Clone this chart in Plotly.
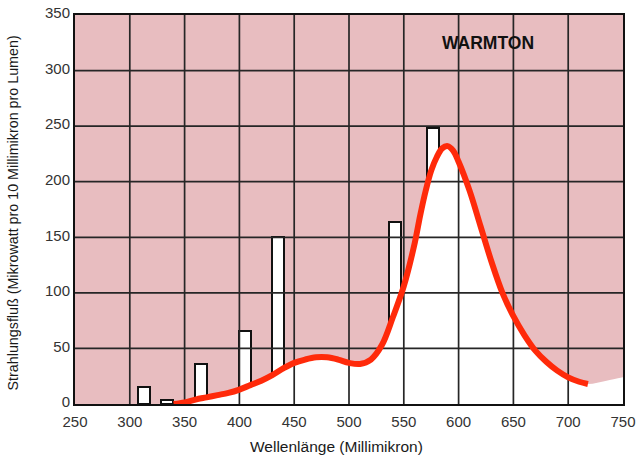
import plotly.graph_objects as go

# Data
line_wavelengths = [313, 334, 365, 405, 435, 542, 577]
line_values = [15, 4, 36, 66, 150, 164, 248]

curve_x = [340, 350, 360, 370, 380, 390, 400, 410, 420, 430, 440, 450, 460, 470, 480,
           490, 500, 510, 520, 530, 540, 550, 560, 565, 570, 575, 580, 585, 590, 595,
           600, 610, 620, 630, 640, 650, 660, 670, 680, 690, 700, 710, 718]
curve_y = [0, 1.5, 4, 6, 8, 10, 13, 17, 21, 26, 32, 37, 40, 42, 42,
           40, 37, 36, 40, 53, 78, 106, 145, 170, 192, 210, 222, 230, 232, 228,
           218, 192, 160, 128, 100, 79, 62, 48, 38, 30, 24, 20, 18]

# white paper showing through at the right bottom edge
white_tail_x = [735, 750]
white_tail_y = [21, 24]

x_ticks = [250, 300, 350, 400, 450, 500, 550, 600, 650, 700, 750]
y_ticks = [0, 50, 100, 150, 200, 250, 300, 350]

PINK = "rgb(232,189,192)"
RED = "#ff2a0a"
GRID = "#262626"

fig = go.Figure()

fig.add_trace(go.Bar(
    x=line_wavelengths, y=line_values, width=11,
    marker=dict(color="white", line=dict(color="#111", width=2)),
    hoverinfo="skip", showlegend=False))

fig.add_trace(go.Scatter(
    x=curve_x + white_tail_x, y=curve_y + white_tail_y,
    mode="lines", line=dict(width=0, shape="spline"),
    fill="tozeroy", fillcolor="white", hoverinfo="skip", showlegend=False))

# grid lines drawn above the white fill
gx, gy = [], []
for v in x_ticks[1:-1]:
    gx += [v, v, None]
    gy += [y_ticks[0], y_ticks[-1], None]
for v in y_ticks[1:-1]:
    gx += [x_ticks[0], x_ticks[-1], None]
    gy += [v, v, None]
fig.add_trace(go.Scatter(x=gx, y=gy, mode="lines",
                         line=dict(color=GRID, width=1.7),
                         hoverinfo="skip", showlegend=False))

fig.add_trace(go.Scatter(
    x=curve_x, y=curve_y, mode="lines",
    line=dict(color=RED, width=6, shape="spline"),
    hoverinfo="skip", showlegend=False))

fig.add_annotation(x=627, y=325, text="<b>WARMTON</b>", showarrow=False,
                   font=dict(family="Liberation Sans, Arial", size=17.5, color="#111"))

fig.add_annotation(xref="paper", yref="paper", x=0.478, y=-0.11, yanchor="middle",
                   text="Wellenlänge (Millimikron)", showarrow=False,
                   font=dict(family="Liberation Sans, Arial", size=15.5, color="#1a1a1a"))
fig.add_annotation(xref="paper", yref="paper", x=-0.113, y=0.49, xanchor="center",
                   text="Strahlungsfluß (Mikrowatt pro 10 Millimikron pro Lumen)",
                   textangle=-90, showarrow=False,
                   font=dict(family="Liberation Sans, Arial", size=14.3, color="#1a1a1a"))

fig.update_layout(
    width=639, height=455,
    margin=dict(l=75, r=16, t=15, b=51, autoexpand=False),
    paper_bgcolor="white", plot_bgcolor=PINK,
    bargap=0, showlegend=False,
    font=dict(family="Liberation Sans, Arial", size=15, color="#333"),
)
fig.update_xaxes(range=[250, 750], tickvals=x_ticks, showgrid=False, zeroline=False,
                 showline=True, linecolor="#111", linewidth=2, mirror=True,
                 ticks="", ticklabelstandoff=3, layer="above traces", automargin=False,
                 tickfont=dict(size=15, color="#333"))
fig.update_yaxes(range=[0, 350], tickvals=y_ticks, showgrid=False, zeroline=False,
                 showline=True, linecolor="#111", linewidth=2, mirror=True,
                 ticks="", ticklabelshift=-2, layer="above traces", automargin=False,
                 tickfont=dict(size=15, color="#333"))

fig.write_html("out.html")
